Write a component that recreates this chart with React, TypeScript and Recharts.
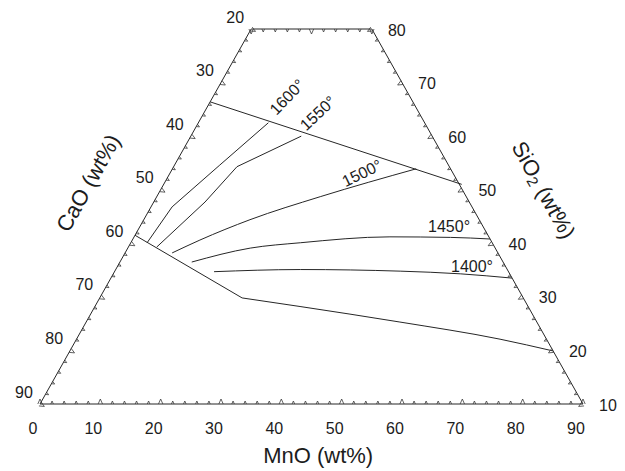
import React from 'react';
import { ScatterChart, Scatter, XAxis, YAxis, ReferenceDot } from 'recharts';

// Compositions are given as [MnO wt%, SiO2 wt%]; CaO = 100 - MnO - SiO2
const frame: number[][] = [[0, 10], [90, 10], [20, 80], [0, 80], [0, 10]];
const upperBoundary: number[][] = [[0, 66.4], [49.4, 51.0]];
const lowerBoundary: number[][] = [[0, 41.5], [23.6, 29.8], [34.0, 28.2], [52.0, 25.3], [70.2, 22.1], [80.1, 19.9]];
const iso1600: number[][] = [[2.7, 40.1], [3.5, 46.8], [7.5, 54.6], [11.6, 62.5]];
const iso1550: number[][] = [[4.7, 39.3], [8.5, 47.7], [10.5, 54.3], [18.3, 60.0]];
const iso1500: number[][] = [[7.8, 38.2], [11.2, 40.6], [17.6, 44.4], [27.1, 48.7], [40.4, 53.9]];
const iso1450: number[][] = [[11.9, 36.5], [20.3, 39.1], [28.1, 40.1], [42.4, 41.2], [52.5, 41.1], [59.2, 40.8]];
const iso1400: number[][] = [[16.5, 34.7], [30.6, 35.1], [47.3, 34.8], [57.5, 34.3], [66.5, 33.5]];

// isotherm labels: [MnO, SiO2] anchor, text
const isoLabels = [
  { mno: 12.3, sio2: 67.3, text: '1600°', angle: -46 },
  { mno: 18.9, sio2: 64.3, text: '1550°', angle: -43 },
  { mno: 31.8, sio2: 53.1, text: '1500°', angle: -26 },
  { mno: 51.2, sio2: 43.2, text: '1450°', angle: 0 },
  { mno: 58.8, sio2: 35.6, text: '1400°', angle: 0 },
];

// axis tick values
const mnoTickLabels = [0, 10, 20, 30, 40, 50, 60, 70, 80, 90];
const caoTickLabels = [20, 30, 40, 50, 60, 70, 80, 90];
const sio2TickLabels = [10, 20, 30, 40, 50, 60, 70, 80];
const minorStep = 2;

const range = (a: number, b: number, s: number) => {
  const r: number[] = [];
  for (let v = a; v <= b + 1e-9; v += s) r.push(v);
  return r;
};

const toXY = (p: number[]) => ({ x: p[0] + p[1] / 2, y: p[1] });

const bottomTicks = range(0, 90, minorStep).map((m) => ({ ...toXY([m, 10]), v: m }));
const topTicks = range(0, 20, minorStep).map((m) => ({ ...toXY([m, 80]), v: m }));
const leftTicks = range(20, 90, minorStep).map((c) => ({ ...toXY([0, 100 - c]), v: c }));
const rightTicks = range(10, 80, minorStep).map((s) => ({ ...toXY([100 - s, s]), v: s }));

const bottomLabels = mnoTickLabels.map((m) => ({ ...toXY([m, 10]), v: m }));
const leftLabels = caoTickLabels.map((c) => ({ ...toXY([0, 100 - c]), v: c }));
const rightLabels = sio2TickLabels.map((s) => ({ ...toXY([100 - s, s]), v: s }));

const LINE = '#262626';
const TEXT = '#1c1c1c';
const FONT = '"Liberation Sans", Arial, sans-serif';

const makeGlyph = (t: [number, number], n: [number, number]) => (props: any) => {
  const { cx, cy, payload } = props;
  if (cx == null || cy == null) return <g />;
  const major = payload.v % 10 === 0;
  const w = major ? 2.2 : 1.3;
  const h = major ? 5 : 3;
  const d = `M${cx - t[0] * w},${cy - t[1] * w}L${cx + n[0] * h},${cy + n[1] * h}L${cx + t[0] * w},${cy + t[1] * w}`;
  return <path d={d} fill="none" stroke="#3a3a3a" strokeWidth={0.8} />;
};

const makeLabel = (dx: number, dy: number) => (props: any) => {
  const { cx, cy, payload } = props;
  if (cx == null || cy == null) return <g />;
  return (
    <text x={cx + dx} y={cy + dy} textAnchor="middle" dominantBaseline="central" fontSize={16} fontFamily={FONT} fill={TEXT}>
      {payload.v}
    </text>
  );
};

const none = () => <g />;

const curve = (pts: number[][], key: string, type: any = 'linear') => (
  <Scatter
    key={key}
    data={pts.map(toXY)}
    line={{ stroke: LINE, strokeWidth: 1 }}
    lineType="joint"
    lineJointType={type}
    shape={none}
    isAnimationActive={false}
  />
);

const textDot = (x: number, y: number, text: React.ReactNode, angle: number, size: number, key: string) => (
  <ReferenceDot
    key={key}
    x={x}
    y={y}
    ifOverflow="visible"
    shape={(p: any) => (
      <text
        x={p.cx}
        y={p.cy}
        textAnchor="middle"
        dominantBaseline="central"
        fontSize={size}
        fontFamily={FONT}
        fill={TEXT}
        transform={`rotate(${angle} ${p.cx} ${p.cy})`}
      >
        {text}
      </text>
    )}
  />
);

const tern = (mno: number, sio2: number) => toXY([mno, sio2]);

export default function App() {
  const mnoTitle = { x: 51.1, y: 0.3 };
  const caoTitle = { x: 13.0, y: 51.25 };
  const sio2Title = { x: 88.5, y: 49.95 };
  return (
    <div style={{ position: 'absolute', left: 0, top: 0, background: '#fff' }}>
      <ScatterChart width={625} height={471} margin={{ top: 29, right: 42, bottom: 67, left: 40 }}>
        <XAxis type="number" dataKey="x" domain={[5, 95]} hide />
        <YAxis type="number" dataKey="y" domain={[10, 80]} hide />
        {curve(frame, 'frame')}
        {curve(upperBoundary, 'ub')}
        {curve(lowerBoundary.slice(0, 2), 'lbA')}
        {curve(lowerBoundary.slice(1), 'lbB', 'monotoneX')}
        {curve(iso1600, 'i1600')}
        {curve(iso1550, 'i1550')}
        {curve(iso1500, 'i1500', 'monotoneX')}
        {curve(iso1450, 'i1450', 'monotoneX')}
        {curve(iso1400, 'i1400', 'monotoneX')}
        <Scatter data={bottomTicks} shape={makeGlyph([1, 0], [0, -1])} isAnimationActive={false} />
        <Scatter data={topTicks} shape={makeGlyph([1, 0], [0, 1])} isAnimationActive={false} />
        <Scatter data={leftTicks} shape={makeGlyph([0.49, -0.871], [0.871, 0.49])} isAnimationActive={false} />
        <Scatter data={rightTicks} shape={makeGlyph([-0.49, -0.871], [-0.871, 0.49])} isAnimationActive={false} />
        <Scatter data={bottomLabels} shape={makeLabel(-7, 24)} isAnimationActive={false} />
        <Scatter data={leftLabels} shape={makeLabel(-16, -12)} isAnimationActive={false} />
        <Scatter data={rightLabels} shape={makeLabel(25, 1)} isAnimationActive={false} />
        {isoLabels.map((l, i) => {
          const p = tern(l.mno, l.sio2);
          return textDot(p.x, p.y, l.text, l.angle, 16, 'iso' + i);
        })}
        {textDot(mnoTitle.x, mnoTitle.y, 'MnO (wt%)', 0, 22, 'tm')}
        {textDot(caoTitle.x, caoTitle.y, 'CaO (wt%)', -60.6, 22, 'tc')}
        {textDot(
          sio2Title.x,
          sio2Title.y,
          <>
            SiO<tspan fontSize={15} dy={5}>2</tspan>
            <tspan dy={-5}> (wt%)</tspan>
          </>,
          60.7,
          22,
          'ts'
        )}
      </ScatterChart>
    </div>
  );
}
